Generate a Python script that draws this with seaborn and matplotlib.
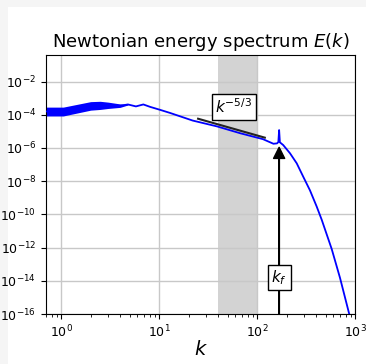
import numpy as np
import pandas as pd
import matplotlib
matplotlib.use("Agg")
import matplotlib.pyplot as plt
import seaborn as sns
from matplotlib.patches import Rectangle

# ---- data ----
k_band = [0.7, 1.05, 2.0, 2.5, 3.0, 4.0, 4.8]
E_band_low = [8.5e-5, 8.5e-5, 1.9e-4, 2.1e-4, 2.4e-4, 2.8e-4, 3.9e-4]
E_band_high = [2.9e-4, 2.9e-4, 6.2e-4, 6.5e-4, 5.8e-4, 4.5e-4, 4.4e-4]

k_vals = [0.7, 1.05, 2.0, 3.0, 4.0, 4.8, 5.8, 6.9, 8.1, 10.2, 12.9, 22.0, 39.0,
          67.0, 115.0, 147.0, 160.0, 165.0, 168.0, 171.0, 185.0, 217.0, 254.0,
          297.0, 347.0, 406.0, 457.0, 578.0, 703.0, 875.0, 950.0]
E_vals = [1.6e-4, 1.6e-4, 3.4e-4, 3.7e-4, 3.5e-4, 4.2e-4, 3.2e-4, 4.2e-4, 3.0e-4,
          2.0e-4, 1.3e-4, 4.5e-5, 2.0e-5, 7.8e-6, 3.4e-6, 1.8e-6, 1.9e-6, 2.3e-6,
          1.2e-5, 2.2e-6, 1.5e-6, 4.8e-7, 1.2e-7, 1.8e-8, 2.8e-9, 3.0e-10,
          4.8e-11, 8.3e-13, 1.5e-14, 9.5e-17, 8.0e-18]

k_ref = [25.0, 120.0]
E_ref = [5.8e-5, 4.2e-6]

k_inertial = [40.0, 100.0]
k_f = 168.0
E_arrow_tip = 1.1e-6
y_ticks = [1e-2, 1e-4, 1e-6, 1e-8, 1e-10, 1e-12, 1e-14, 1e-16]

# ---- figure ----
fig = plt.figure(figsize=(3.66, 3.64), dpi=100)
fig.patch.set_facecolor("#f5f5f5")
fig.patches.append(Rectangle((8 / 366, 0), 1, 1 - 7 / 364, transform=fig.transFigure,
                             facecolor="white", edgecolor="none", zorder=-10))
ax = fig.add_axes([46 / 366, 1 - 314 / 364, (355 - 46) / 366, (314 - 55) / 364])

ax.axvspan(k_inertial[0], k_inertial[1], color="#d3d3d3", zorder=0.5, lw=0)

ax.fill_between(k_band, E_band_low, E_band_high, color="blue", lw=0, zorder=2)
df = pd.DataFrame({"k": k_vals, "E": E_vals})
sns.lineplot(data=df, x="k", y="E", ax=ax, color="blue", lw=1.3, sort=False,
             estimator=None, zorder=3)

ax.plot(k_ref, E_ref, color="#222222", lw=1.5, zorder=3)
ax.text(58, 3.0e-4, r"$k^{-5/3}$", fontsize=11, ha="center", va="center",
        bbox=dict(facecolor="white", edgecolor="black", pad=2.5, lw=1), zorder=5)

ax.annotate("", xy=(k_f, E_arrow_tip), xytext=(k_f, 1e-16),
            arrowprops=dict(facecolor="black", edgecolor="black", width=0.4,
                            headwidth=8, headlength=8, shrink=0), zorder=4)
ax.text(k_f, 1.6e-14, r"$k_f$", fontsize=11, ha="center", va="center",
        bbox=dict(facecolor="white", edgecolor="black", pad=2.5, lw=1), zorder=5)

ax.set_xscale("log")
ax.set_yscale("log")
ax.set_xlim(0.7, 1000)
ax.set_ylim(1e-16, 0.4)
ax.set_yticks(y_ticks)
ax.yaxis.set_minor_locator(matplotlib.ticker.NullLocator())
ax.grid(True, which="major", color="#c8c8c8", lw=1, zorder=0)
ax.set_axisbelow(True)
ax.tick_params(labelsize=9)
ax.set_xlabel(r"$k$", fontsize=14, labelpad=0)
ax.set_ylabel("")
ax.set_title(r"Newtonian energy spectrum $E(k)$", fontsize=13)

fig.savefig("out.png", dpi=100)
